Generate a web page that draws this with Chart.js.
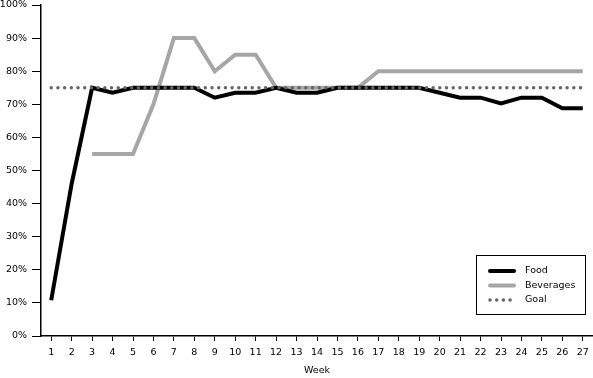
<!DOCTYPE html>
<html>
<head>
<meta charset="utf-8">
<script src="https://cdn.jsdelivr.net/npm/chart.js@4.4.1/dist/chart.umd.min.js"></script>
<style>
  body { margin: 0; background: #fff; }
  #wrap { width: 593px; height: 378px; }
</style>
</head>
<body>
<div id="wrap"><canvas id="chart" width="593" height="378"></canvas></div>
<script>
// weeks on the x axis
const weeks = ['1','2','3','4','5','6','7','8','9','10','11','12','13','14','15','16','17','18','19','20','21','22','23','24','25','26','27'];

// percent values
const food = [10.8, 46, 75, 73.5, 75, 75, 75, 75, 72, 73.5, 73.5, 75, 73.5, 73.5, 75, 75, 75, 75, 75, 73.5, 72, 72, 70.3, 72, 72, 68.8, 68.8];
const beverages = [null, null, 55, 55, 55, 70, 90, 90, 80, 85, 85, 75, 75, 75, 75, 75, 80, 80, 80, 80, 80, 80, 80, 80, 80, 80, 80];
const goal = [75, 75, 75, 75, 75, 75, 75, 75, 75, 75, 75, 75, 75, 75, 75, 75, 75, 75, 75, 75, 75, 75, 75, 75, 75, 75, 75];

const fontFamily = '"DejaVu Sans", Verdana, sans-serif';

// draws the boxed legend inside the plot, bottom right
const boxLegend = {
    id: 'boxLegend',
    afterDraw(chart) {
        const ctx = chart.ctx;
        const x = 476, y = 255, w = 109, h = 59;
        ctx.save();
        ctx.fillStyle = '#fff';
        ctx.fillRect(x, y, w, h);
        ctx.strokeStyle = '#000';
        ctx.lineWidth = 1;
        ctx.strokeRect(x + 0.5, y + 0.5, w, h);
        ctx.font = '9.5px ' + fontFamily;
        ctx.textBaseline = 'middle';
        chart.data.datasets.forEach((ds, i) => {
            const ly = y + 16 + i * 14.5;
            ctx.beginPath();
            ctx.strokeStyle = ds.borderColor;
            ctx.lineWidth = ds.borderWidth;
            ctx.lineCap = 'round';
            ctx.setLineDash(ds.borderDash || []);
            ctx.moveTo(490, ly);
            ctx.lineTo(514, ly);
            ctx.stroke();
            ctx.setLineDash([]);
            ctx.fillStyle = '#000';
            ctx.fillText(ds.label, 525, ly);
        });
        ctx.restore();
    }
};

const ctx = document.getElementById('chart').getContext('2d');
new Chart(ctx, {
    type: 'line',
    data: {
        labels: weeks,
        datasets: [
            {
                label: 'Food',
                data: food,
                borderColor: '#000',
                borderWidth: 4,
                pointRadius: 0,
                tension: 0,
                order: 1
            },
            {
                label: 'Beverages',
                data: beverages,
                borderColor: '#a6a6a6',
                borderWidth: 4,
                pointRadius: 0,
                tension: 0,
                order: 2
            },
            {
                label: 'Goal',
                data: goal,
                borderColor: '#666',
                borderWidth: 3.5,
                borderDash: [0, 6.7],
                borderCapStyle: 'round',
                pointRadius: 0,
                order: 0
            }
        ]
    },
    plugins: [boxLegend],
    options: {
        responsive: false,
        animation: false,
        layout: { padding: { top: 5, right: 0, left: 0, bottom: 0 } },
        plugins: {
            legend: { display: false },
            tooltip: { enabled: false }
        },
        scales: {
            x: {
                offset: true,
                afterFit: s => { s.height = 42; s.paddingRight = 0; s.paddingLeft = 0; },
                grid: {
                    offset: false,
                    drawOnChartArea: false,
                    drawTicks: true,
                    tickLength: 5,
                    color: '#000'
                },
                border: { color: '#000', width: 1.5 },
                ticks: {
                    color: '#000',
                    font: { family: fontFamily, size: 9.5 },
                    maxRotation: 0,
                    autoSkip: false,
                    padding: 6
                },
                title: {
                    display: true,
                    text: 'Week',
                    color: '#000',
                    font: { family: fontFamily, size: 9.5 },
                    padding: { top: 4, bottom: 2 }
                }
            },
            y: {
                min: 0,
                max: 100,
                afterFit: s => { s.width = 41; s.paddingTop = 0; s.paddingBottom = 0; },
                grid: {
                    drawOnChartArea: false,
                    drawTicks: true,
                    tickLength: 9,
                    color: '#000'
                },
                border: { color: '#000', width: 1.5 },
                ticks: {
                    stepSize: 10,
                    color: '#000',
                    font: { family: fontFamily, size: 9.5 },
                    padding: 5,
                    callback: v => v + '%'
                }
            }
        }
    }
});
</script>
</body>
</html>
